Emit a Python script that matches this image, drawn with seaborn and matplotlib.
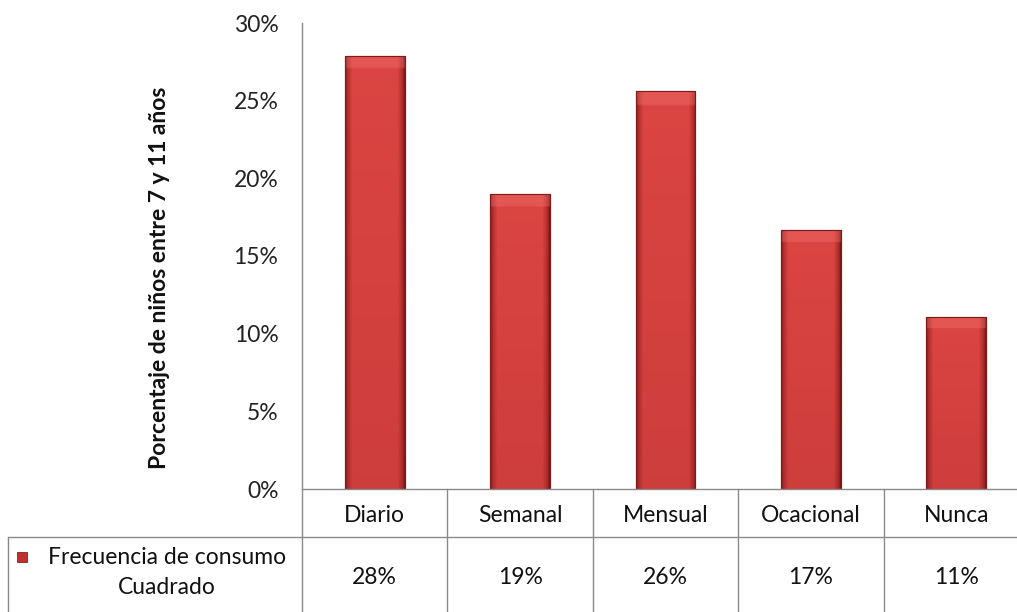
import numpy as np
import pandas as pd
import matplotlib
matplotlib.use("Agg")
import matplotlib.pyplot as plt
import matplotlib.transforms as mtransforms
from matplotlib.lines import Line2D
from matplotlib.patches import Rectangle
import seaborn as sns

# Data
categories = ["Diario", "Semanal", "Mensual", "Ocacional", "Nunca"]
values = [0.279, 0.190, 0.256, 0.167, 0.111]
series_name = "Frecuencia de consumo\nCuadrado"
y_ticks = [0.0, 0.05, 0.10, 0.15, 0.20, 0.25, 0.30]
y_label = "Porcentaje de niños entre 7 y 11 años"

sns.set_theme(style="white")
plt.rcParams["font.family"] = ["Lato", "DejaVu Sans"]

W, H = 1017, 612
fig = plt.figure(figsize=(W / 100, H / 100), dpi=100)

def fx(px):
    return px / W

def fy(py):
    return 1 - py / H

FS = 16.5
TXT = "#111111"

ax_left, ax_right, ax_top, ax_bottom = 302, 1029, 23, 489
ax = fig.add_axes([fx(ax_left), fy(ax_bottom), fx(ax_right - ax_left), (ax_bottom - ax_top) / H])

df = pd.DataFrame({"cat": categories, "val": values})
sns.barplot(data=df, x="cat", y="val", ax=ax, color="#d43f3a", width=0.41,
            edgecolor="#7d1a1a", linewidth=0.8, saturation=1)

ax.set_xlim(-0.5, len(categories) - 0.5)
ax.set_ylim(0, 0.30)
ax.set_yticks(y_ticks)
ax.set_yticklabels([f"{t:.0%}" for t in y_ticks], fontsize=FS, color="#222222")
ax.tick_params(axis="y", length=0, pad=17)
ax.set_xticks([])
ax.set_xlabel("")
ax.set_ylabel("")
for side in ["top", "right", "bottom"]:
    ax.spines[side].set_visible(False)
ax.spines["left"].set_color("#888888")
ax.spines["left"].set_linewidth(1.0)

# Shaded bevel fill for each bar
ny, nx = 200, 60
xs = np.linspace(0, 1, nx)
ys = np.linspace(0, 1, ny)
edge = np.clip(np.minimum(xs, 1 - xs) / 0.12, 0, 1) ** 0.6
light = np.array([0.86, 0.27, 0.26])
dark = np.array([0.50, 0.09, 0.09])
for patch in list(ax.patches):
    x0, y0 = patch.get_x(), patch.get_y()
    w, h = patch.get_width(), patch.get_height()
    img = np.zeros((ny, nx, 3))
    vert = 0.85 + 0.15 * ys[:, None]  # slightly darker toward the base
    mix = edge[None, :] * vert
    img[:] = dark + (light - dark) * mix[..., None]
    # lighter top bevel
    top_px = 12.0 / (h / 0.30 * (ax_bottom - ax_top)) if h > 0 else 0
    top_band = ys > (1 - top_px)
    img[top_band] = img[top_band] * 0.7 + np.array([0.97, 0.50, 0.48]) * 0.3
    im = ax.imshow(img, extent=[x0, x0 + w, y0, y0 + h], origin="lower",
                   aspect="auto", zorder=patch.get_zorder() + 0.1, interpolation="bilinear")
    im.set_clip_path(patch)
    outline = Rectangle((x0, y0), w, h, fill=False, edgecolor="#7d1a1a",
                        linewidth=0.8, zorder=patch.get_zorder() + 0.2)
    ax.add_patch(outline)
ax.set_xlim(-0.5, len(categories) - 0.5)
ax.set_ylim(0, 0.30)

# Y axis title
fig.text(fx(160), fy(278), y_label, rotation=90, ha="center", va="center",
         fontsize=16.5, fontweight="bold", color=TXT)

# Data table below the plot
grid = "#8a8a8a"
blend = mtransforms.blended_transform_factory(ax.transData, fig.transFigure)
row1_mid, row_sep, row2_mid = 516, 537, 577
n = len(categories)

# horizontal rules
fig.add_artist(Line2D([fx(ax_left), 1.0], [fy(ax_bottom), fy(ax_bottom)], color=grid, lw=1.0))
fig.add_artist(Line2D([fx(8), 1.0], [fy(row_sep), fy(row_sep)], color=grid, lw=1.0))
# vertical rules
fig.add_artist(Line2D([fx(ax_left), fx(ax_left)], [fy(ax_bottom), 0], color=grid, lw=1.0))
fig.add_artist(Line2D([fx(8), fx(8)], [fy(row_sep), 0], color=grid, lw=1.0))
for i in range(1, n):
    fig.add_artist(Line2D([i - 0.5, i - 0.5], [fy(ax_bottom), 0], color=grid, lw=1.0,
                          transform=blend))

for i, (cat, v) in enumerate(zip(categories, values)):
    fig.text(i, fy(row1_mid), cat, transform=blend, ha="center", va="center",
             fontsize=FS, color=TXT)
    fig.text(i, fy(row2_mid), f"{v:.0%}", transform=blend, ha="center", va="center",
             fontsize=FS, color=TXT)

# series key in the table
fig.add_artist(Rectangle((fx(17), fy(562)), fx(10), 10 / H, facecolor="#c0302e",
                         edgecolor="#8a1f1f", lw=0.6))
name_lines = series_name.split("\n")
fig.text(fx(167), fy(557), name_lines[0], ha="center", va="center", fontsize=FS, color=TXT)
fig.text(fx(167), fy(588), name_lines[1], ha="center", va="center", fontsize=FS, color=TXT)

fig.savefig("out.png", dpi=100, facecolor="white")
